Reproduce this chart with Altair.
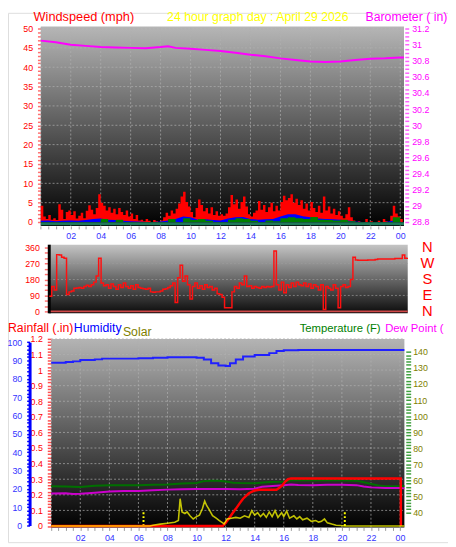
import altair as alt
import pandas as pd

FONT = "Liberation Sans"
W, H = 448, 539

# ---------------- text ----------------
TITLE_WIND = "Windspeed (mph)"
TITLE_DATE = "24 hour graph day : April 29 2026"
TITLE_BARO = "Barometer ( in)"
TITLE_RAIN = "Rainfall (.in)"
TITLE_HUM = "Humidity"
TITLE_SOLAR = "Solar"
TITLE_TEMP = "Temperature (F)"
TITLE_DEW = "Dew Point ("
COMPASS = ["N", "W", "S", "E", "N"]
COMPASS_DEG = [360, 270, 180, 90, 0]

# ---------------- data ----------------
# wind gust (mph), 10-minute samples from 00:00
GUST = [4.2, 1.4, 0.8, 1.8, 0.6, 1.0, 0.5, 4.6, 3.2, 0.8, 2.6, 3.0,
        1.8, 2.8, 0.9, 1.6, 2.4, 1.0, 2.9, 4.3, 3.2, 2.0, 3.6, 7.2,
        5.0, 4.2, 3.0, 3.8, 2.4, 3.4, 2.0, 3.6, 2.6, 1.8, 3.0, 1.4,
        2.2, 0.8, 1.8, 0.4, 0.6, 0.2, 0.8, 0.3, 0.0, 0.5, 0.2, 0.0,
        0.4, 1.2, 2.4, 1.6, 3.0, 2.2, 3.4, 4.8, 6.6, 7.8, 5.2, 4.0,
        2.6, 1.2, 3.6, 5.8, 4.4, 2.8, 3.6, 2.2, 3.8, 1.8, 2.8, 1.6,
        2.0, 1.6, 2.2, 3.8, 7.0, 4.6, 5.8, 3.4, 5.2, 6.6, 4.0, 2.0,
        1.4, 2.4, 3.0, 5.4, 3.2, 4.4, 2.6, 3.8, 5.0, 2.8, 4.2, 3.0,
        5.2, 6.8, 5.6, 6.2, 7.2, 5.0, 6.0, 4.4, 5.6, 3.4, 4.8, 3.0,
        5.2, 3.6, 2.6, 4.2, 2.4, 6.6, 3.0, 4.0, 2.2, 3.4, 1.8, 2.8,
        1.6, 1.0, 2.0, 3.8, 1.2, 0.4, 0.0, 0.2, 0.0, 0.0, 0.8, 0.0,
        0.2, 0.0, 0.0, 0.3, 0.0, 0.8, 0.2, 0.0, 1.6, 4.2, 2.2, 1.4,
        0.8, 0.0]
# wind direction (deg), 10-minute samples
DIRECTION = [85, 140, 120, 320, 318, 305, 300, 95, 110, 115, 130, 132,
             135, 130, 140, 148, 140, 150, 165, 200, 300, 160, 145, 150,
             130, 155, 140, 125, 150, 135, 160, 140, 130, 145, 125, 150,
             135, 130, 128, 125, 130, 110, 108, 110, 110, 115, 125, 128,
             135, 145, 160, 50, 190, 260, 170, 200, 150, 70, 140, 160,
             130, 145, 125, 150, 135, 140, 120, 130, 100, 95, 80, 20,
             20, 20, 110, 140, 130, 160, 150, 200, 140, 145, 130, 140,
             135, 130, 140, 135, 140, 138, 140, 340, 150, 120, 165, 105,
             150, 135, 160, 140, 165, 150, 145, 160, 140, 155, 130, 150,
             140, 120, 150, 10, 140, 130, 120, 150, 130, 20, 140, 150,
             135, 140, 180, 305, 290, 288, 288, 288, 288, 290, 290, 290,
             292, 296, 296, 296, 296, 296, 296, 296, 298, 298, 298, 318,
             300, 302]
# average wind and low wind (mph), half-hourly samples
AVG_WIND = [0.3, 0.4, 0.2, 0.3, 0.4, 0.3, 0.5, 0.8, 0.9, 0.6, 0.5, 0.3,
            0.2, 0.1, 0.0, 0.0, 0.1, 0.4, 0.8, 1.4, 1.2, 0.6, 0.7, 0.5,
            0.4, 0.9, 1.2, 1.3, 0.8, 0.6, 0.7, 0.8, 1.4, 2.0, 2.0, 1.5,
            1.2, 0.9, 0.8, 0.7, 0.6, 0.4, 0.1, 0.0, 0.0, 0.0, 0.0, 0.3,
            0.2]
LOW_WIND = [0, 0, 0, 0, 0, 0, 0, 0, 0.8, 0, 0.6, 0,
            0, 0, 0, 0, 0, 0.8, 0, 1.0, 0.5, 0.8, 0.3, 0,
            0, 0.6, 1.0, 0.8, 0.3, 0, 0.4, 0.2, 1.0, 1.2, 1.0, 0.8,
            1.3, 0.6, 0.5, 0.4, 0.6, 0.2, 0, 0, 0, 0, 0, 1.2,
            0]
BARO_H = [0, 1, 2, 3, 4, 5, 6, 7, 8, 8.5, 9, 10, 11, 12, 13, 14, 15, 16,
          17, 18, 19, 20, 21, 22, 23, 24, 24.25]
BARO = [31.05, 31.03, 31.00, 30.985, 30.97, 30.965, 30.96, 30.955, 30.97,
        30.98, 30.96, 30.95, 30.935, 30.92, 30.90, 30.875, 30.855, 30.83,
        30.81, 30.79, 30.785, 30.79, 30.81, 30.825, 30.83, 30.84, 30.84]
SOLAR_H = [0, 6.8, 7.0, 7.5, 8.0, 8.5, 8.75, 8.87, 9.0, 9.2, 9.35, 9.55, 9.77,
           10.0, 10.2, 10.4, 10.56, 10.7, 10.85, 11.1, 11.35, 11.57, 11.9,
           12.1, 12.4, 12.7, 13.0, 13.3, 13.6, 13.8, 14.0, 14.2, 14.4, 14.6,
           14.8, 15.0, 15.2, 15.4, 15.6, 15.85, 16.0, 16.2, 16.4, 16.7, 16.9,
           17.1, 17.3, 17.6, 17.9, 18.2, 18.4, 18.6, 18.8, 19.0, 19.3, 19.6,
           19.9, 20.2, 24.3]
SOLAR = [0, 0, 5, 12, 18, 24, 35, 175, 90, 80, 90, 66, 45,
         60, 70, 110, 160, 130, 108, 66, 50, 35, 14,
         45, 50, 55, 50, 65, 55, 98, 70, 85, 60, 80,
         55, 90, 60, 98, 55, 85, 60, 95, 50, 65, 45,
         60, 40, 50, 30, 35, 25, 30, 45, 20, 12, 5,
         3, 0, 0]
SUN_MARKS = [6.35, 20.2]
RAIN_H = [0, 11.8, 12.0, 12.2, 12.5, 12.7, 13.0, 13.2, 13.6, 14.0, 14.3,
          15.5, 15.7, 15.9, 16.1, 16.3, 16.5, 24.05, 24.06]
RAIN = [0, 0, 0.02, 0.045, 0.085, 0.11, 0.15, 0.175, 0.21, 0.228, 0.232,
        0.232, 0.245, 0.26, 0.285, 0.3, 0.305, 0.305, 0]
TEMP_H = [0, 1, 2, 3, 4, 5, 6, 7, 8, 9, 10, 10.5, 11, 11.5, 12, 12.5, 13, 14,
          15, 16, 16.5, 17, 18, 19, 20, 21, 21.5, 22, 22.5, 23, 24, 24.3]
TEMP = [56.3, 56.2, 55.9, 56.6, 56.9, 56.9, 57.0, 57.3, 57.4, 58.0, 58.4,
        59.5, 59.8, 59.8, 59.3, 58.5, 58.3, 58.2, 58.9, 59.2, 60.0, 60.0,
        60.0, 60.1, 60.0, 59.8, 58.8, 57.8, 56.8, 56.4, 56.3, 56.5]
DEW_H = [0, 1, 1.5, 2, 3, 4, 5, 6, 7, 8, 9, 10, 11, 12, 13, 14, 14.5, 15, 16,
         16.5, 17, 18, 19, 20, 21, 21.5, 22, 23, 24, 24.3]
DEW = [51.8, 52.0, 51.5, 51.6, 52.2, 53.0, 53.3, 53.4, 53.8, 54.2, 54.4,
       54.6, 54.6, 54.6, 54.5, 54.8, 56.0, 56.3, 57.0, 57.4, 57.1, 56.9,
       57.3, 57.3, 57.0, 56.2, 55.6, 55.2, 55.2, 55.0]
HUM_H = [0, 0.5, 1, 1.5, 2, 3, 3.5, 4, 5, 6, 7, 8, 9, 10, 10.5, 11, 11.5, 12,
         12.3, 12.7, 13.2, 14, 15, 15.5, 16, 17, 24.3]
HUM = [88.8, 88.8, 89.2, 89.5, 90.2, 90.6, 91.0, 91.0, 91.0, 91.2, 91.5,
       91.8, 91.8, 91.5, 90.5, 88.5, 87.2, 87.0, 88.5, 90.5, 92.2, 93.0,
       94.0, 95.2, 95.6, 95.7, 95.7]

# ---------------- scales (domain, pixel range) ----------------
X1 = ([0, 24.25], [33.4, 403.2])
X2 = ([0, 24.2], [42, 407])
X3 = ([0, 24.3], [44, 403.6])
Y_WIND = ([0, 50], [213, 16])
Y_BARO = ([28.8, 31.2], [213, 16])
Y_DIR = ([0, 360], [304, 239])
Y_RAIN = ([0, 1.2], [522.5, 332])
Y_SOLAR = ([0, 1200], [522.5, 332])
Y_HUM = ([0, 100], [522, 335.3])
Y_TEMP = ([40, 140], [508.7, 345.3])


def sc(s):
    return alt.Scale(domain=s[0], range=s[1], nice=False, zero=False)


def X(field, s, axis=None):
    return alt.X(f"{field}:Q", scale=sc(s), axis=axis)


def Y(field, s, axis=None):
    return alt.Y(f"{field}:Q", scale=sc(s), axis=axis)


def grad(top, bottom):
    return alt.Gradient(gradient="linear",
                        stops=[alt.GradientStop(color=top, offset=0),
                               alt.GradientStop(color=bottom, offset=1)],
                        x1=0, x2=0, y1=0, y2=1)


def time_axis(offset):
    return alt.Axis(orient="bottom", offset=offset, title=None,
                    values=[i * 0.5 for i in range(49)],
                    labelExpr="datum.value % 2 == 0 && datum.value > 0 ? "
                              "((datum.value % 24) < 10 ? '0' : '') + format(datum.value % 24, 'd') : ''",
                    labelColor="#3333ff", labelFont=FONT, labelFontSize=9,
                    tickColor="#9a9a9a", tickSize=3, domain=False, grid=False,
                    labelPadding=3, labelFlush=False, labelOverlap=False)


def val_axis(orient, offset, values, expr, color, tick_color, tick=4, pad=3,
             domain=False, dom_color="#000000", dom_width=1, dom_dash=None):
    kw = dict(orient=orient, offset=offset, title=None, values=values,
              labelExpr=expr, labelColor=color, labelFont=FONT, labelFontSize=9,
              tickColor=tick_color, tickSize=tick, tickWidth=1.5, grid=False,
              labelPadding=pad, labelOverlap=False, labelFlush=False,
              domain=domain)
    if domain:
        kw.update(domainColor=dom_color, domainWidth=dom_width)
        if dom_dash:
            kw.update(domainDash=dom_dash)
    return alt.Axis(**kw)


def rect_bg(x0, x1, y0, y1, xs, ys, top, bottom, xaxis=None, yaxis=None):
    df = pd.DataFrame({"a": [x0], "b": [x1], "c": [y0], "d": [y1]})
    return alt.Chart(df).mark_rect(color=grad(top, bottom)).encode(
        x=X("a", xs, xaxis), x2="b:Q", y=Y("c", ys, yaxis), y2="d:Q")


def vgrid(hours, y0, y1, xs, ys, color="#b0b0b0"):
    df = pd.DataFrame({"h": hours, "c": [y0] * len(hours), "d": [y1] * len(hours)})
    return alt.Chart(df).mark_rule(color=color, strokeDash=[2, 2], strokeWidth=1,
                                   opacity=0.7).encode(
        x=X("h", xs), y=Y("c", ys), y2="d:Q")


def hgrid(vals, x0, x1, xs, ys, color="#b0b0b0"):
    df = pd.DataFrame({"v": vals, "a": [x0] * len(vals), "b": [x1] * len(vals)})
    return alt.Chart(df).mark_rule(color=color, strokeDash=[2, 2], strokeWidth=1,
                                   opacity=0.7).encode(
        y=Y("v", ys), x=X("a", xs), x2="b:Q")


def text(t, x, y, color, size=13):
    return alt.Chart(pd.DataFrame({"t": [t]})).mark_text(
        align="left", baseline="alphabetic", font=FONT, fontSize=size,
        color=color).encode(text="t:N", x=alt.value(x), y=alt.value(y))


hours10 = [i / 6 for i in range(len(GUST))]
hours30 = [i * 0.5 for i in range(len(AVG_WIND))]

layers = []

# ================= panel 1 : wind + barometer =================
wind_axis = val_axis("left", -34, list(range(0, 51)),
                     "datum.value % 5 == 0 ? format(datum.value, 'd') : ''",
                     "#ff0000", "#ff7070", tick=4, pad=5)
layers.append(rect_bg(0, 24.25, -1.0, 50.5, X1, Y_WIND, "#b6b6b6", "#000000",
                      xaxis=time_axis(-322), yaxis=wind_axis))
layers.append(vgrid(list(range(0, 25, 2)), -1.0, 50.5, X1, Y_WIND))
layers.append(hgrid(list(range(5, 51, 5)), 0, 24.25, X1, Y_WIND))

df_gust = pd.DataFrame({"h": hours10, "v": GUST})
layers.append(alt.Chart(df_gust).mark_area(color="#ff0000", interpolate="step-after").encode(
    x=X("h", X1), y=Y("v", Y_WIND)))
df_avg = pd.DataFrame({"h": hours30, "v": AVG_WIND})
layers.append(alt.Chart(df_avg).mark_area(color="#0000ff").encode(
    x=X("h", X1), y=Y("v", Y_WIND)))
df_low = pd.DataFrame({"h": hours30, "v": LOW_WIND})
layers.append(alt.Chart(df_low).mark_area(color="#008000", interpolate="step-after").encode(
    x=X("h", X1), y=Y("v", Y_WIND)))
df_base = pd.DataFrame({"a": [0], "b": [24.25], "v": [-0.45]})
layers.append(alt.Chart(df_base).mark_rule(color="#1f7a5a", strokeWidth=3).encode(
    y=Y("v", Y_WIND), x=X("a", X1), x2="b:Q"))

baro_axis = val_axis("right", -44, [round(28.8 + 0.05 * i, 2) for i in range(49)],
                     "abs(datum.value * 5 - round(datum.value * 5)) < 0.001 ? format(datum.value, '.3~g') : ''",
                     "#ff00ff", "#ff60ff", tick=4, pad=3)
df_baro = pd.DataFrame({"h": BARO_H, "v": BARO})
layers.append(alt.Chart(df_baro).mark_line(color="#ff00ff", strokeWidth=2).encode(
    x=X("h", X1), y=Y("v", Y_BARO, baro_axis)))

# ================= panel 2 : wind direction =================
dir_axis = val_axis("left", -41, list(range(0, 361, 30)),
                    "datum.value % 90 == 0 ? format(datum.value, 'd') : ''",
                    "#ff0000", "#ff7070", tick=4, pad=5)
layers.append(rect_bg(0, 24.2, -11, 376, X2, Y_DIR, "#c4c4c4", "#0c0c0c", yaxis=dir_axis))
layers.append(hgrid([90, 180, 270], 0, 24.2, X2, Y_DIR, color="#9a9a9a"))
df_zero = pd.DataFrame({"a": [0], "b": [24.2], "v": [0]})
layers.append(alt.Chart(df_zero).mark_rule(color="#d04848", strokeWidth=2).encode(
    y=Y("v", Y_DIR), x=X("a", X2), x2="b:Q"))
df_edge = pd.DataFrame({"h": [0], "c": [-11], "d": [376]})
layers.append(alt.Chart(df_edge).mark_rule(color="#000000", strokeWidth=3).encode(
    x=X("h", X2), y=Y("c", Y_DIR), y2="d:Q"))
df_dir = pd.DataFrame({"h": hours10, "v": DIRECTION})
layers.append(alt.Chart(df_dir).mark_line(color="#ff1010", strokeWidth=1.5,
                                         interpolate="step-after").encode(
    x=X("h", X2), y=Y("v", Y_DIR)))
df_comp = pd.DataFrame({"c": COMPASS, "deg": COMPASS_DEG})
layers.append(alt.Chart(df_comp).mark_text(font=FONT, fontSize=15, color="#ff0000",
                                          align="center", baseline="middle").encode(
    text="c:N", y=Y("deg", Y_DIR), x=alt.value(427)))

# ================= panel 3 : rain, humidity, solar, temperature =================
rain_axis = val_axis("left", -44, [round(0.02 * i, 2) for i in range(61)],
                     "abs(datum.value * 10 - round(datum.value * 10)) < 0.001 ? format(datum.value, '.2~g') : ''",
                     "#ff0000", "#ff5050", tick=4, pad=5,
                     domain=True, dom_color="#ff4040", dom_width=1.5, dom_dash=[2, 2])
layers.append(rect_bg(0, 24.3, -0.01, 1.2, X3, Y_RAIN, "#b4b4b4", "#000000",
                      xaxis=time_axis(-15), yaxis=rain_axis))
layers.append(vgrid(list(range(0, 25, 2)), -0.01, 1.2, X3, Y_RAIN))
layers.append(hgrid([round(0.1 * i, 1) for i in range(1, 13)], 0, 24.3, X3, Y_RAIN))
df_sun = pd.DataFrame({"h": SUN_MARKS, "c": [0, 0], "d": [0.1, 0.1]})
layers.append(alt.Chart(df_sun).mark_rule(color="#ffff00", strokeWidth=2, strokeDash=[2, 2]).encode(
    x=X("h", X3), y=Y("c", Y_RAIN), y2="d:Q"))

hum_axis = val_axis("left", -22, list(range(0, 101, 2)),
                    "datum.value % 10 == 0 ? format(datum.value, 'd') : ''",
                    "#3333ff", "#0000ff", tick=3, pad=5,
                    domain=True, dom_color="#0000ff", dom_width=3)
df_hum = pd.DataFrame({"h": HUM_H, "v": HUM})
layers.append(alt.Chart(df_hum).mark_line(color="#2020ff", strokeWidth=2,
                                         interpolate="step-after").encode(
    x=X("h", X3), y=Y("v", Y_HUM, hum_axis)))

temp_axis = val_axis("right", -43, list(range(32, 147, 2)),
                     "datum.value % 10 == 0 && datum.value >= 40 && datum.value <= 140 ? format(datum.value, 'd') : ''",
                     "#808000", "#40a040", tick=5, pad=2)
df_temp = pd.DataFrame({"h": TEMP_H, "v": TEMP})
layers.append(alt.Chart(df_temp).mark_line(color="#007000", strokeWidth=2).encode(
    x=X("h", X3), y=Y("v", Y_TEMP, temp_axis)))
df_dew = pd.DataFrame({"h": DEW_H, "v": DEW})
layers.append(alt.Chart(df_dew).mark_line(color="#cc00cc", strokeWidth=2).encode(
    x=X("h", X3), y=Y("v", Y_TEMP)))

df_rain = pd.DataFrame({"h": RAIN_H, "v": RAIN})
layers.append(alt.Chart(df_rain).mark_line(color="#ff0000", strokeWidth=2.5).encode(
    x=X("h", X3), y=Y("v", Y_RAIN)))
df_solar = pd.DataFrame({"h": SOLAR_H, "v": SOLAR})
layers.append(alt.Chart(df_solar).mark_line(color="#ffff00", strokeWidth=1.6, opacity=0.75).encode(
    x=X("h", X3), y=Y("v", Y_SOLAR)))

# ================= titles =================
layers.append(text(TITLE_WIND, 26, 8, "#ff0000", 13))
layers.append(text(TITLE_DATE, 162, 8, "#ffff00", 12.5))
layers.append(text(TITLE_BARO, 364, 8, "#ff00ff", 12.5))
layers.append(text(TITLE_RAIN, 0, 325, "#ff0000", 12.5))
layers.append(text(TITLE_HUM, 67, 325, "#0000ff", 12.5))
layers.append(text(TITLE_SOLAR, 117, 329, "#808000", 12.5))
layers.append(text(TITLE_TEMP, 297, 325, "#008000", 11.5))
layers.append(text(TITLE_DEW, 384, 325, "#ff00ff", 11.5))

chart = alt.layer(*layers).resolve_scale(x="independent", y="independent").properties(
    width=W, height=H, padding=0,
    autosize=alt.AutoSizeParams(type="none"),
).configure_view(strokeWidth=0).configure(font=FONT)

chart.save("out.html", embed_options={"renderer": "svg", "actions": False})
